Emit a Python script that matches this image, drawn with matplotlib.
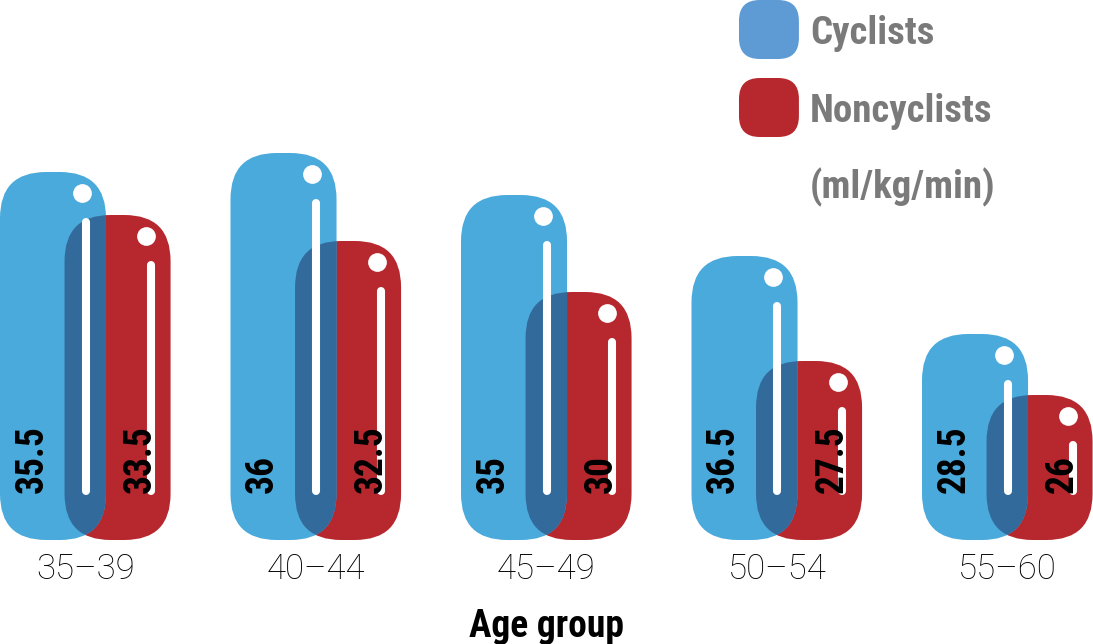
import numpy as np
import matplotlib
matplotlib.use('Agg')
import matplotlib.pyplot as plt
from matplotlib.patches import FancyBboxPatch

age_groups = ['35–39', '40–44', '45–49', '50–54', '55–60']
cyclist_labels = ['35.5', '36', '35', '36.5', '28.5']
noncyclist_labels = ['33.5', '32.5', '30', '27.5', '26']
# tube heights as drawn in the original graphic (they are not scaled to the labels)
cyclist_heights = [368, 387, 345, 284, 206]
noncyclist_heights = [325, 299, 248, 179, 145]

BLUE = '#4aaadb'
RED = '#b6282e'
DARK = '#336a9c'
GREY = '#7a7a7a'
PX = 230.5          # pixels per group along x
BAR_W = 0.46
OFFSET = 0.28
BOLD = dict(family=['Liberation Sans Narrow', 'Roboto Condensed', 'Roboto', 'DejaVu Sans'],
            weight='black')


def tube(ax, x, h, color, z):
    p = FancyBboxPatch((x, 0), BAR_W, h, boxstyle='round,pad=0,rounding_size=0.2',
                       mutation_aspect=PX, fc=color, ec='none', zorder=z)
    ax.add_patch(p)
    return p


def shine(ax, x, h):
    ax.plot([x + 0.373, x + 0.373], [49, h - 50], color='white', lw=5.8,
            solid_capstyle='round', zorder=5)
    ax.plot(x + 0.355, h - 21, marker='o', ms=13.5, color='white', mec='none', zorder=5)


fig = plt.figure(figsize=(10.93, 6.44), dpi=100)
ax = fig.add_axes([0, 104 / 644, 1, 540 / 644])
ax.set_xlim(0, 1093 / PX)
ax.set_ylim(0, 540)
for s in ax.spines.values():
    s.set_visible(False)
ax.set_yticks([])

for i in range(len(age_groups)):
    xb = i
    xr = i + OFFSET
    red = tube(ax, xr, noncyclist_heights[i], RED, 1)
    blue = tube(ax, xb, cyclist_heights[i], BLUE, 2)
    over = tube(ax, xr, noncyclist_heights[i], DARK, 3)
    over.set_clip_path(blue)
    shine(ax, xb, cyclist_heights[i])
    shine(ax, xr, noncyclist_heights[i])
    ax.text(xb + 0.139, 47, cyclist_labels[i], rotation=90, ha='center', va='bottom',
            fontsize=27, color='black', zorder=6, **BOLD)
    ax.text(xr + 0.33, 47, noncyclist_labels[i], rotation=90, ha='center', va='bottom',
            fontsize=27, color='black', zorder=6, **BOLD)

ax.set_xticks(np.arange(len(age_groups)) + 0.37, age_groups)
ax.tick_params(axis='x', length=0, pad=9, labelsize=25)
for t in ax.get_xticklabels():
    t.set_family(['Roboto', 'DejaVu Sans'])
    t.set_weight('light')
ax.set_xlabel('Age group', fontsize=27, labelpad=16, **BOLD)

# legend
leg = [('Cyclists', '#5e9bd5'), ('Noncyclists', RED)]
for k, (name, c) in enumerate(leg):
    y0 = 481 - k * 78
    ax.add_patch(FancyBboxPatch((3.206, y0), 0.26, 59, boxstyle='round,pad=0,rounding_size=0.09',
                                mutation_aspect=PX, fc=c, ec='none', clip_on=False))
    ax.text(3.514, y0 + 26, name, ha='left', va='center', fontsize=28, color=GREY, **BOLD)
ax.text(3.514, 353, '(ml/kg/min)', ha='left', va='center', fontsize=28, color=GREY, **BOLD)

fig.savefig('out.png', dpi=100)
plt.close('all')
